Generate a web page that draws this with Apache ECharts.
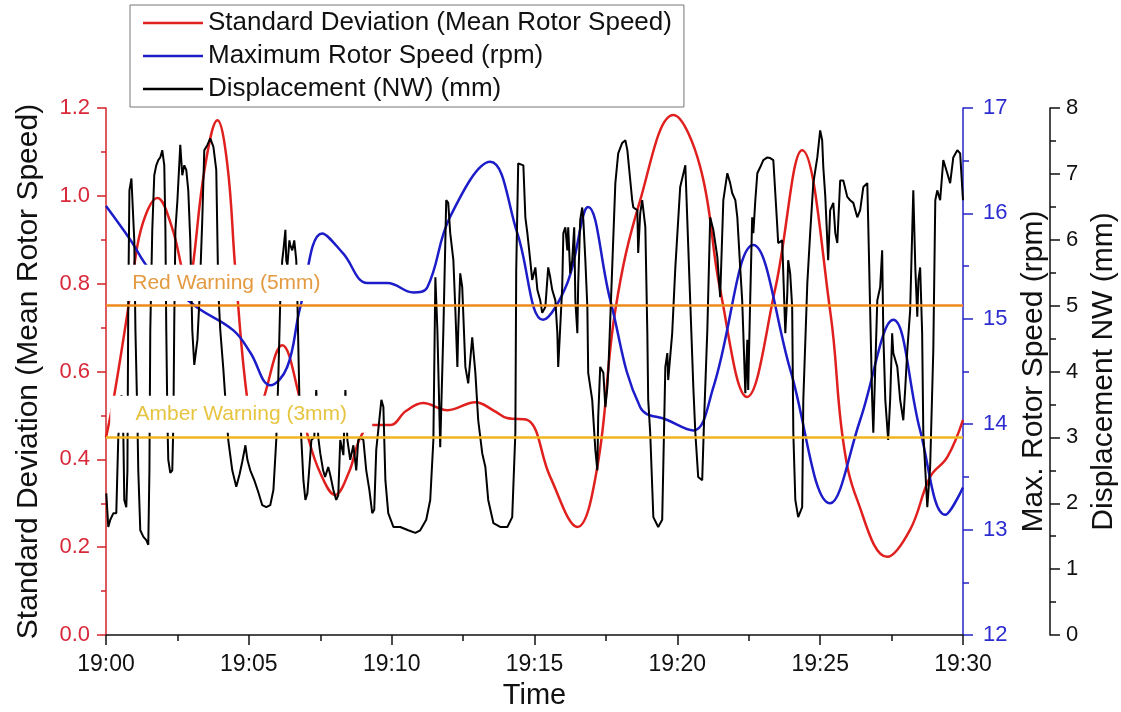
<!DOCTYPE html>
<html>
<head>
<meta charset="utf-8">
<script src="https://cdn.jsdelivr.net/npm/echarts@6/dist/echarts.min.js"></script>
<style>
  html, body { margin: 0; padding: 0; background: #fff; }
  #chart { width: 1121px; height: 712px; }
</style>
</head>
<body>
<div id="chart"></div>
<script>
// x values are minutes after 19:00
var timeLabels = ["19:00", "19:05", "19:10", "19:15", "19:20", "19:25", "19:30"];

// standard deviation of mean rotor speed [minute, value]
var stdDev = [
  [0, 0.45], [0.26, 0.535], [0.75, 0.733], [0.96, 0.83], [1.3, 0.94], [1.8, 0.995],
  [2.3, 0.93], [2.67, 0.83], [2.85, 0.78], [3.02, 0.83], [3.45, 1.06], [3.9, 1.172],
  [4.25, 1.07], [4.53, 0.83], [4.95, 0.535], [5.23, 0.48], [5.5, 0.535], [6.17, 0.66],
  [6.8, 0.535], [7.08, 0.449], [7.5, 0.369], [8.02, 0.319], [8.5, 0.37], [8.9, 0.449],
  [9.32, 0.478], [9.95, 0.478], [10.5, 0.51], [11.1, 0.528], [11.95, 0.512], [12.93, 0.53],
  [13.6, 0.51], [14.04, 0.494], [14.74, 0.49], [15.55, 0.36], [16.5, 0.246], [17.2, 0.383],
  [17.83, 0.74], [18.7, 0.99], [19.86, 1.184], [20.8, 1.066], [21.5, 0.786], [22.44, 0.542],
  [23.42, 0.786], [24.37, 1.104], [25.36, 0.733], [25.8, 0.444], [26.3, 0.307], [27.35, 0.178],
  [28.15, 0.24], [28.85, 0.36], [29.45, 0.405], [30, 0.49]
];

// maximum rotor speed (rpm) [minute, value]
var maxRpm = [
  [0, 16.07], [0.85, 15.75], [1.55, 15.46], [2.4, 15.28], [3.23, 15.10], [4.46, 14.89],
  [5.05, 14.68], [5.75, 14.37], [6.34, 14.54], [6.8, 15.11], [7.57, 15.81], [8.3, 15.62],
  [9.15, 15.34], [9.85, 15.34], [10.76, 15.25], [11.25, 15.30], [12.05, 15.97], [13.45, 16.49],
  [14.4, 15.81], [15.3, 14.99], [16.15, 15.34], [16.88, 16.06], [17.65, 15.18], [18.7, 14.16],
  [19.65, 14.04], [20.56, 13.94], [21.26, 14.35], [22.66, 15.70], [23.96, 14.51], [25.35, 13.25],
  [26.4, 14.04], [27.56, 14.99], [28.5, 13.94], [29.38, 13.14], [30, 13.40]
];

// displacement NW (mm) [minute, value]
var displacement = [
  [0.01,2.15],[0.08,1.64],[0.15,1.75],[0.26,1.85],[0.36,1.85],[0.43,3.00],[0.54,3.64],[0.57,3.57],
  [0.61,2.96],[0.64,2.05],[0.71,1.94],[0.75,2.50],[0.78,5.08],[0.82,6.75],[0.89,6.93],[0.96,6.90],
  [0.99,5.99],[1.03,4.63],[1.10,3.26],[1.13,2.50],[1.20,1.59],[1.31,1.49],[1.41,1.44],[1.48,1.37],
  [1.52,2.50],[1.55,4.63],[1.62,6.15],[1.69,6.98],[1.76,7.13],[1.83,7.21],[1.90,7.25],[1.97,7.36],
  [2.04,7.13],[2.08,6.15],[2.11,4.63],[2.15,3.26],[2.18,2.66],[2.25,2.46],[2.32,2.50],[2.36,3.26],
  [2.39,4.78],[2.43,6.15],[2.50,6.60],[2.60,7.44],[2.67,6.98],[2.74,7.13],[2.81,7.06],[2.88,6.75],
  [2.95,5.99],[3.02,4.63],[3.09,4.10],[3.16,4.07],[3.20,4.48],[3.27,5.08],[3.37,6.30],[3.44,7.36],
  [3.55,7.44],[3.65,7.54],[3.76,7.41],[3.86,7.06],[3.93,5.24],[4.00,4.63],[4.11,4.02],[4.18,3.57],
  [4.28,2.96],[4.42,2.50],[4.56,2.25],[4.67,2.43],[4.77,2.63],[4.88,2.88],[4.95,2.66],[5.05,2.50],
  [5.19,2.35],[5.33,2.17],[5.47,1.97],[5.61,1.94],[5.75,1.97],[5.86,2.20],[5.96,2.96],[6.03,3.87],
  [6.10,5.08],[6.17,5.69],[6.21,5.84],[6.28,6.15],[6.31,5.69],[6.35,5.61],[6.42,5.99],[6.45,5.92],
  [6.52,5.84],[6.59,5.99],[6.66,5.69],[6.70,5.08],[6.77,3.57],[6.84,2.96],[6.91,2.35],[6.98,2.05],
  [7.05,2.15],[7.12,2.55],[7.19,2.96],[7.29,3.00],[7.36,3.72],[7.43,3.00],[7.50,2.76],[7.60,2.50],
  [7.67,2.40],[7.78,2.55],[7.85,2.43],[7.96,2.20],[8.06,2.05],[8.13,2.12],[8.20,2.96],[8.31,2.73],
  [8.38,3.72],[8.45,2.96],[8.55,2.66],[8.66,2.88],[8.76,2.50],[8.83,2.96],[8.90,3.00],[9.01,2.96],
  [9.11,2.50],[9.22,2.20],[9.32,1.85],[9.39,1.90],[9.46,2.81],[9.64,3.57],[9.71,3.46],[9.78,2.35],
  [9.88,1.85],[10.06,1.64],[10.30,1.64],[10.58,1.59],[10.83,1.55],[11.00,1.59],[11.21,1.75],[11.35,2.05],
  [11.46,2.96],[11.53,5.43],[11.60,4.63],[11.70,2.85],[11.81,4.63],[11.91,6.60],[11.98,6.56],[12.05,6.10],
  [12.16,5.69],[12.23,4.93],[12.30,4.07],[12.33,4.63],[12.40,5.49],[12.47,5.28],[12.58,4.07],[12.68,3.82],
  [12.82,4.52],[12.93,3.98],[13.03,3.26],[13.17,2.76],[13.28,2.55],[13.38,2.05],[13.56,1.70],[13.80,1.64],
  [14.05,1.64],[14.22,1.79],[14.33,3.07],[14.36,5.54],[14.43,7.16],[14.50,7.13],[14.61,7.13],[14.68,6.34],
  [14.75,6.10],[14.85,5.69],[14.92,5.39],[15.03,5.58],[15.10,5.24],[15.20,5.08],[15.27,4.89],[15.38,4.98],
  [15.48,5.58],[15.55,5.43],[15.62,5.24],[15.73,5.08],[15.80,4.58],[15.83,4.07],[15.90,4.67],[15.97,5.28],
  [16.01,6.10],[16.08,6.19],[16.15,5.84],[16.18,6.19],[16.25,5.49],[16.32,5.69],[16.39,6.19],[16.43,5.08],
  [16.50,4.58],[16.53,5.34],[16.60,6.30],[16.67,6.49],[16.71,6.30],[16.78,5.69],[16.85,4.98],[16.88,3.98],
  [17.02,3.57],[17.13,2.81],[17.20,2.50],[17.23,3.31],[17.30,4.07],[17.41,3.98],[17.48,3.46],[17.55,3.76],
  [17.59,4.07],[17.72,5.58],[17.83,6.86],[17.93,7.31],[18.07,7.47],[18.18,7.51],[18.25,7.36],[18.42,6.60],
  [18.46,6.49],[18.60,6.45],[18.63,5.80],[18.70,6.40],[18.77,6.60],[18.88,6.19],[18.95,4.58],[18.98,3.57],
  [19.05,3.07],[19.16,1.79],[19.33,1.64],[19.47,1.75],[19.58,4.07],[19.65,4.28],[19.68,3.87],[19.82,4.58],
  [19.93,5.58],[20.10,6.80],[20.28,7.13],[20.35,7.10],[20.45,5.08],[20.56,3.76],[20.63,3.07],[20.73,2.40],
  [20.87,2.35],[20.94,3.31],[21.05,4.63],[21.15,6.34],[21.26,6.15],[21.40,5.74],[21.50,5.13],[21.61,6.60],
  [21.75,7.01],[21.85,6.86],[21.92,6.71],[22.03,6.60],[22.10,6.34],[22.20,5.58],[22.27,5.08],[22.31,4.58],
  [22.38,3.67],[22.45,4.48],[22.48,3.72],[22.55,5.08],[22.62,6.34],[22.66,6.10],[22.73,6.60],[22.80,7.01],
  [22.90,7.10],[23.01,7.21],[23.15,7.25],[23.25,7.24],[23.36,7.21],[23.50,6.19],[23.53,5.95],[23.67,5.99],
  [23.78,4.58],[23.85,5.19],[23.88,5.69],[23.95,5.49],[24.02,4.98],[24.06,3.07],[24.13,2.05],[24.23,1.79],
  [24.30,1.82],[24.37,1.94],[24.41,3.57],[24.55,5.34],[24.65,6.10],[24.76,6.86],[24.90,7.25],[25.00,7.66],
  [25.07,7.51],[25.11,7.10],[25.18,6.65],[25.28,5.69],[25.35,6.45],[25.46,6.56],[25.53,6.10],[25.60,5.95],
  [25.70,6.90],[25.81,6.90],[25.95,6.65],[26.05,6.60],[26.16,6.56],[26.30,6.34],[26.40,6.45],[26.51,6.80],
  [26.65,6.86],[26.68,6.30],[26.75,4.93],[26.82,3.57],[26.86,3.07],[27.00,5.08],[27.10,5.28],[27.17,5.84],
  [27.21,4.58],[27.28,3.57],[27.38,2.96],[27.45,3.57],[27.52,4.58],[27.56,4.28],[27.70,4.07],[27.80,3.57],
  [27.91,3.26],[27.98,3.76],[28.05,4.32],[28.15,4.93],[28.26,6.75],[28.33,5.58],[28.40,4.83],[28.44,5.39],
  [28.50,5.58],[28.57,4.58],[28.61,3.07],[28.75,1.94],[28.85,2.55],[28.96,4.32],[29.03,6.60],[29.10,6.75],
  [29.20,6.60],[29.31,7.21],[29.45,7.01],[29.55,6.86],[29.66,7.25],[29.80,7.36],[29.90,7.31],[30.00,6.60]
];

// warning levels (mm)
var redWarning = 5;
var amberWarning = 3;

var font = "Liberation Sans, Arial, sans-serif";
var red = "#e0201e";
var blue = "#1c1cc8";

var myChart = echarts.init(document.getElementById("chart"));
var option = {
  animation: false,
  textStyle: { fontFamily: font },
  grid: { left: 106, right: 158, top: 108, bottom: 77, outerBoundsMode: "none", containLabel: false },
  legend: {
    orient: "vertical",
    left: 130,
    top: 5,
    padding: [5, 12, 5, 13],
    icon: "rect",
    itemWidth: 60,
    itemHeight: 2.5,
    itemGap: 7,
    borderColor: "#777",
    borderWidth: 1,
    backgroundColor: "#fff",
    textStyle: { fontSize: 26, lineHeight: 26, color: "#111", fontFamily: font },
    data: ["Standard Deviation (Mean Rotor Speed)", "Maximum Rotor Speed (rpm)", "Displacement (NW) (mm)"]
  },
  xAxis: {
    type: "value",
    min: 0,
    max: 30,
    interval: 5,
    name: "Time",
    nameLocation: "middle",
    nameGap: 46,
    nameTextStyle: { fontSize: 29, color: "#111" },
    axisLine: { onZero: false, lineStyle: { color: "#111", width: 1.5 } },
    axisTick: { length: 10, lineStyle: { width: 1.5 } },
    minorTick: { show: true, splitNumber: 2, length: 6, lineStyle: { color: "#111", width: 1.5 } },
    axisLabel: {
      fontSize: 23, margin: 18, color: "#111",
      formatter: function (v) { return timeLabels[Math.round(v / 5)]; }
    },
    splitLine: { show: false },
    minorSplitLine: { show: false }
  },
  yAxis: [
    {
      type: "value",
      position: "left",
      min: 0,
      max: 1.2,
      interval: 0.2,
      name: "Standard Deviation (Mean Rotor Speed)",
      nameLocation: "middle",
      nameRotate: 90,
      nameGap: 62,
      nameTextStyle: { fontSize: 30, color: "#111" },
      axisLine: { show: true, lineStyle: { color: "#d2232a", width: 1.5 } },
      axisTick: { show: true, length: 9, lineStyle: { width: 1.5 } },
      minorTick: { show: true, splitNumber: 2, length: 5, lineStyle: { color: "#d2232a", width: 1.5 } },
      axisLabel: { fontSize: 22, margin: 16, color: "#d8283a", formatter: function (v) { return v.toFixed(1); } },
      splitLine: { show: false }
    },
    {
      type: "value",
      position: "right",
      min: 12,
      max: 17,
      interval: 1,
      name: "Max. Rotor Speed (rpm)",
      nameLocation: "middle",
      nameRotate: 90,
      nameGap: 47,
      nameTextStyle: { fontSize: 30, color: "#111" },
      axisLine: { show: true, lineStyle: { color: "#2424c8", width: 1.5 } },
      axisTick: { show: true, length: 10, lineStyle: { width: 1.5 } },
      minorTick: { show: true, splitNumber: 2, length: 6, lineStyle: { color: "#2424c8", width: 1.5 } },
      axisLabel: { fontSize: 22, margin: 20, color: "#2c2cd0" },
      splitLine: { show: false }
    },
    {
      type: "value",
      position: "right",
      offset: 87,
      min: 0,
      max: 8,
      interval: 1,
      name: "Displacement NW (mm)",
      nameLocation: "middle",
      nameRotate: 90,
      nameGap: 38,
      nameTextStyle: { fontSize: 30, color: "#111" },
      axisLine: { show: true, lineStyle: { color: "#111", width: 1.5 } },
      axisTick: { show: true, length: 10, lineStyle: { width: 1.5 } },
      minorTick: { show: true, splitNumber: 2, length: 6, lineStyle: { color: "#111", width: 1.5 } },
      axisLabel: { fontSize: 22, margin: 16, color: "#111" },
      splitLine: { show: false }
    }
  ],
  series: [
    {
      name: "Standard Deviation (Mean Rotor Speed)",
      type: "line",
      yAxisIndex: 0,
      data: stdDev,
      smooth: 0.4,
      symbol: "none",
      z: 2,
      lineStyle: { color: red, width: 2.5 },
      itemStyle: { color: red }
    },
    {
      name: "Maximum Rotor Speed (rpm)",
      type: "line",
      yAxisIndex: 1,
      data: maxRpm,
      smooth: 0.4,
      symbol: "none",
      z: 3,
      lineStyle: { color: blue, width: 2.5 },
      itemStyle: { color: blue }
    },
    {
      name: "Displacement (NW) (mm)",
      type: "line",
      yAxisIndex: 2,
      data: displacement,
      symbol: "none",
      z: 4,
      lineStyle: { color: "#000", width: 2 },
      itemStyle: { color: "#000" },
      markLine: {
        silent: true,
        symbol: "none",
        label: { show: false },
        lineStyle: { type: "solid", width: 2.5 },
        data: [
          { yAxis: redWarning, lineStyle: { color: "#ef8a1c", type: "solid", width: 2.5 } },
          { yAxis: amberWarning, lineStyle: { color: "#f0b41e", type: "solid", width: 2.5 } }
        ]
      },
      markArea: {
        silent: true,
        z: 10,
        itemStyle: { color: "#fff" },
        label: { show: true, position: "inside", fontSize: 21, fontFamily: font },
        data: [
          [
            { name: "Red Warning (5mm)", xAxis: 0.33, yAxis: redWarning + 0.07, label: { color: "#e39a40" } },
            { xAxis: 8.1, yAxis: redWarning + 0.62 }
          ],
          [
            { name: "Amber Warning (3mm)", xAxis: 0.15, yAxis: amberWarning + 0.07, label: { color: "#e6c440" } },
            { xAxis: 9.32, yAxis: amberWarning + 0.63 }
          ]
        ]
      }
    }
  ]
};
myChart.setOption(option);
</script>
</body>
</html>
